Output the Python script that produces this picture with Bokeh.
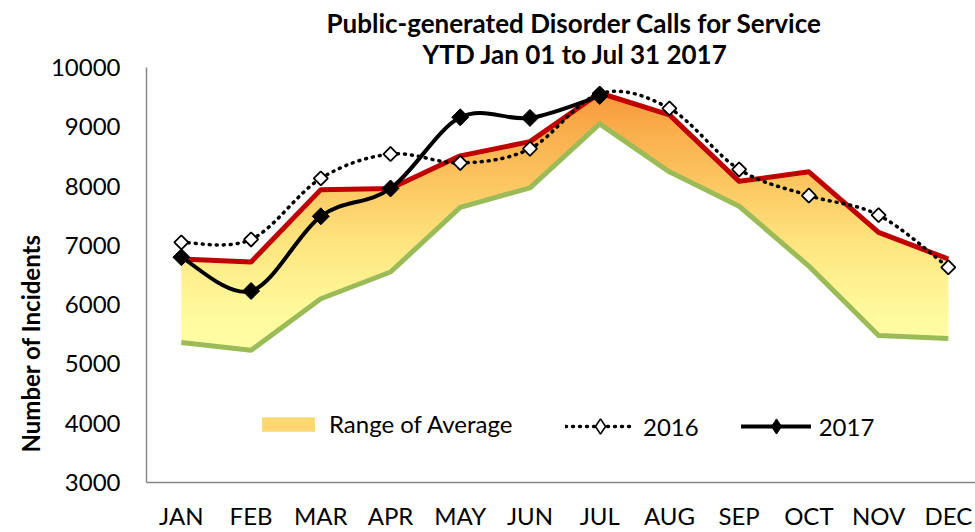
import numpy as np
from bokeh.plotting import figure
from bokeh.models import Range1d, FixedTicker, Legend, LegendItem, Title
from bokeh.embed import file_html
from bokeh.resources import INLINE

months = ["JAN", "FEB", "MAR", "APR", "MAY", "JUN", "JUL", "AUG", "SEP", "OCT", "NOV", "DEC"]
range_low = [5360, 5230, 6100, 6550, 7640, 7970, 9050, 8240, 7660, 6650, 5480, 5430]
range_high = [6770, 6720, 7940, 7960, 8510, 8750, 9570, 9200, 8080, 8240, 7220, 6770]
y2016 = [7050, 7100, 8130, 8540, 8390, 8630, 9560, 9310, 8280, 7840, 7510, 6630]
y2017 = [6800, 6230, 7490, 7960, 9160, 9150, 9520]
y_ticks = [3000, 4000, 5000, 6000, 7000, 8000, 9000, 10000]

FONT = "Lato"

p = figure(width=975, height=532, x_range=Range1d(-0.5, 11.39), y_range=Range1d(3000, 10000),
           min_border_left=146, min_border_right=0, min_border_top=67, min_border_bottom=47,
           output_backend="svg", toolbar_location=None)
p.outline_line_color = None
p.xgrid.visible = False
p.ygrid.visible = False
p.background_fill_color = "white"

# gradient fill between low and high, built as horizontal value bands
idx = np.arange(len(months))
xf = np.linspace(0, len(months) - 1, 800)
lowf = np.interp(xf, idx, range_low)
highf = np.interp(xf, idx, range_high)
stops_v = [5000, 6000, 7000, 8000, 9000, 9600]
stops_c = [(255, 255, 168), (255, 248, 155), (254, 230, 128), (252, 200, 98), (249, 172, 74), (247, 150, 58)]
step = 40
edges = np.arange(5000, 9700, step)
legend_band = None
for b0 in edges:
    b1 = b0 + step * 1.6
    vm = b0 + step / 2
    col = tuple(int(round(np.interp(vm, stops_v, [c[k] for c in stops_c]))) for k in range(3))
    y1 = np.clip(lowf, b0, b1)
    y2 = np.clip(highf, b0, b1)
    r = p.varea(x=xf, y1=y1, y2=y2, fill_color="#%02x%02x%02x" % col, fill_alpha=1.0)
    if legend_band is None and vm >= 7500:
        legend_band = r


def bez(xs, ys):
    xs = np.asarray(xs, float)
    ys = np.asarray(ys, float)
    n = len(xs)
    xp = np.concatenate([[xs[0]], xs, [xs[-1]]])
    yp = np.concatenate([[ys[0]], ys, [ys[-1]]])
    d = dict(x0=[], y0=[], x1=[], y1=[], cx0=[], cy0=[], cx1=[], cy1=[])
    for i in range(n - 1):
        j = i + 1
        d["x0"].append(xs[i]); d["y0"].append(ys[i])
        d["x1"].append(xs[i + 1]); d["y1"].append(ys[i + 1])
        d["cx0"].append(xs[i] + (xp[j + 1] - xp[j - 1]) / 6)
        d["cy0"].append(ys[i] + (yp[j + 1] - yp[j - 1]) / 6)
        d["cx1"].append(xs[i + 1] - (xp[j + 2] - xp[j]) / 6)
        d["cy1"].append(ys[i + 1] - (yp[j + 2] - yp[j]) / 6)
    return d


p.line(idx, range_low, line_color="#9BBB59", line_width=5, line_join="round")
p.line(idx, range_high, line_color="#C00000", line_width=5, line_join="round")

b16 = bez(idx, y2016)
r16 = p.bezier(source=b16, x0="x0", y0="y0", x1="x1", y1="y1", cx0="cx0", cy0="cy0", cx1="cx1", cy1="cy1",
               line_color="black", line_width=3.5, line_dash="1 6", line_cap="round")
# legend proxy diamonds (hidden beneath the rotated squares)
d16 = p.scatter(idx, y2016, marker="diamond", size=13, fill_color="white", line_color="black", line_width=1.6)
p.scatter(idx, y2016, marker="square", angle=np.pi / 4, size=10, fill_color="white",
          line_color="black", line_width=1.8)

idx17 = np.arange(len(y2017))
b17 = bez(idx17, y2017)
r17 = p.bezier(source=b17, x0="x0", y0="y0", x1="x1", y1="y1", cx0="cx0", cy0="cy0", cx1="cx1", cy1="cy1",
               line_color="black", line_width=4, line_cap="round")
d17 = p.scatter(idx17, y2017, marker="diamond", size=15, fill_color="black", line_color="black", line_width=1)
p.scatter(idx17, y2017, marker="square", angle=np.pi / 4, size=12, fill_color="black",
          line_color="black", line_width=1)


def style_legend(lg):
    lg.background_fill_alpha = 0
    lg.border_line_color = None
    lg.padding = 0
    lg.margin = 0
    lg.glyph_width = 68
    lg.label_standoff = 8
    lg.label_text_font = FONT
    lg.label_text_font_size = "24px"
    lg.label_text_color = "black"


legend1 = Legend(items=[LegendItem(label="Range of Average", renderers=[legend_band], index=0)],
                 orientation="horizontal", location=(109, 44))
style_legend(legend1)
legend1.glyph_height = 18
legend1.glyph_width = 66
p.add_layout(legend1, "center")

legend2 = Legend(items=[
    LegendItem(label="2016", renderers=[r16, d16], index=0),
    LegendItem(label="2017", renderers=[r17, d17], index=0),
], orientation="horizontal", location=(419, 37))
style_legend(legend2)
legend2.spacing = 42
legend2.glyph_height = 38
legend2.glyph_width = 70
p.add_layout(legend2, "center")

# axes
p.xaxis.ticker = FixedTicker(ticks=list(idx))
p.xaxis.major_label_overrides = {int(i): m for i, m in enumerate(months)}
p.yaxis.ticker = FixedTicker(ticks=y_ticks)
for ax in (p.xaxis[0], p.yaxis[0]):
    ax.axis_line_color = "#868686"
    ax.axis_line_width = 1.5
    ax.major_tick_line_color = None
    ax.minor_tick_line_color = None
    ax.major_tick_out = 0
    ax.major_tick_in = 0
    ax.minor_tick_out = 0
    ax.minor_tick_in = 0
    ax.major_label_text_font = FONT
    ax.major_label_text_font_size = "24px"
    ax.major_label_text_color = "black"
p.yaxis.major_label_standoff = 26
p.xaxis.major_label_standoff = 18

# titles (first added sits closest to the plot)
p.add_layout(Title(text="YTD Jan 01 to Jul 31 2017", align="left", offset=276, standoff=-5,
                   text_baseline="alphabetic",
                   text_font=FONT, text_font_style="bold", text_font_size="26px",
                   text_color="black"), "above")
p.add_layout(Title(text="Public-generated Disorder Calls for Service", align="left", offset=180,
                   standoff=0, text_baseline="alphabetic",
                   text_font=FONT, text_font_style="bold", text_font_size="26px",
                   text_color="black"), "above")
p.add_layout(Title(text="Number of Incidents", align="left", offset=30, standoff=6,
                   text_font=FONT, text_font_style="bold", text_font_size="24px",
                   text_color="black"), "left")

open("out.html", "w").write(file_html(p, INLINE))
